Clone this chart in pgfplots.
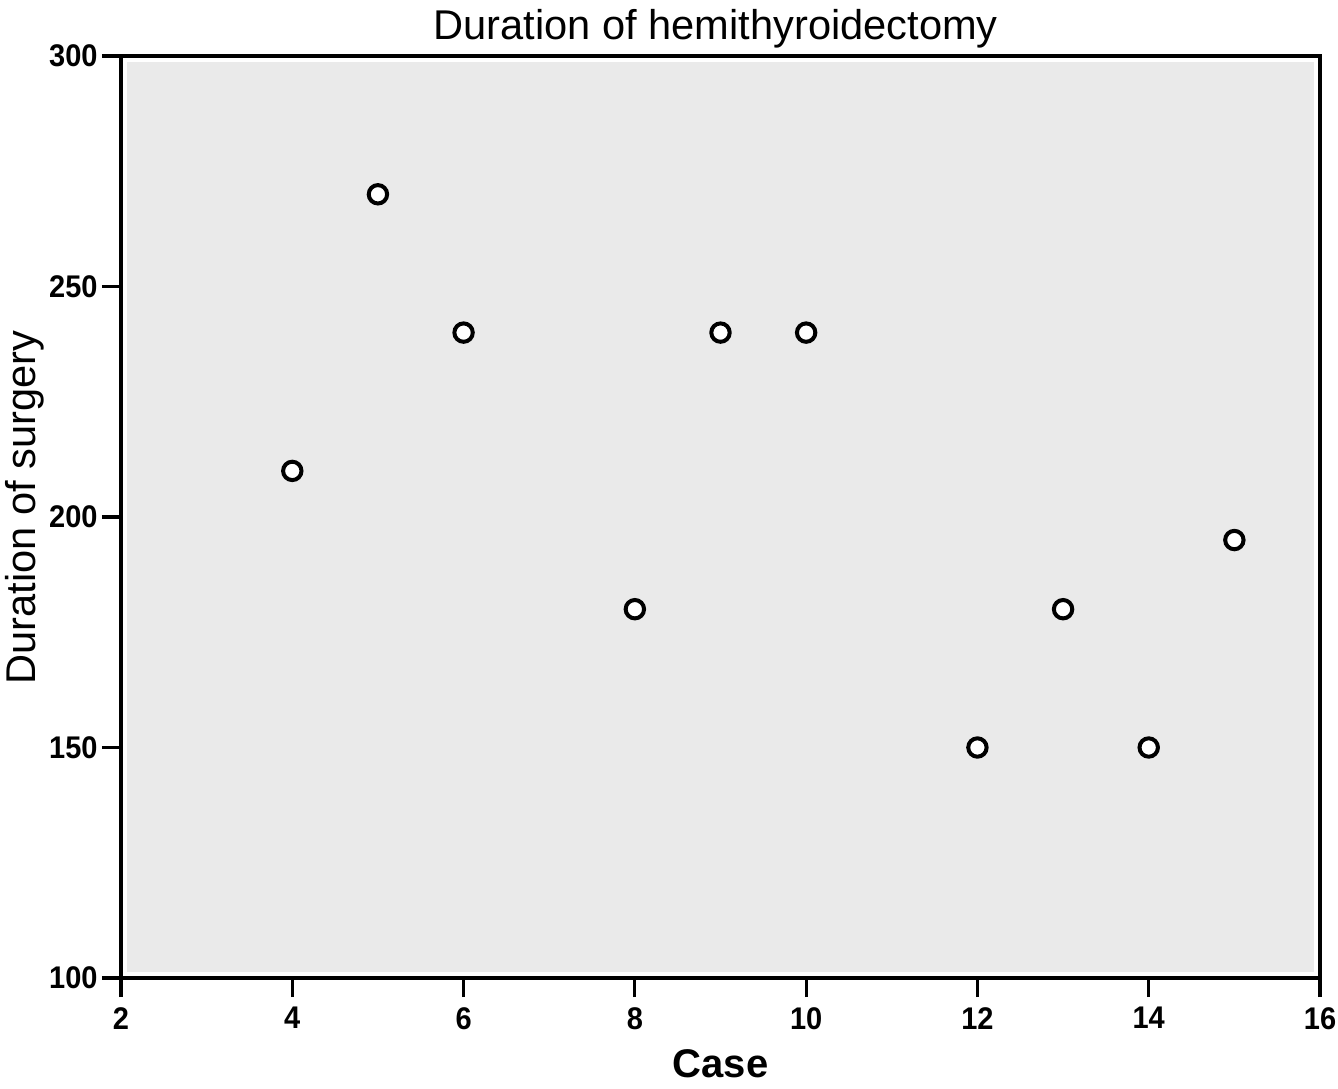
\documentclass[border=0pt]{standalone}
\usepackage{fontspec}
\setmainfont{Liberation Sans}
\usepackage{pgfplots}
\pgfplotsset{compat=1.18}
\definecolor{bgc}{RGB}{234,234,234}
\begin{document}
\begin{tikzpicture}
\useasboundingbox (-60.5pt,-55pt) rectangle (608.5pt,489pt);
\begin{axis}[
  scale only axis,
  width=599.5pt, height=461pt,
  xmin=2, xmax=16, ymin=100, ymax=300,
  xtick={2,4,...,16}, ytick={100,150,...,300},
  axis line style={line width=1.8pt},
  tick style={line width=1.6pt, black},
  tick align=outside,
  xtick pos=bottom, ytick pos=left,
  major tick length=9.5pt,
  /pgf/number format/assume math mode=true,
  ticklabel style={font=\fontsize{14.5}{17}\selectfont\bfseries, inner sep=0pt, yscale=1.08},
  yticklabel style={anchor=east, xshift=-2pt},
  xticklabel style={anchor=north, yshift=-4.5pt},
  title={Duration of hemithyroidectomy},
  title style={font=\fontsize{20.8}{24}\selectfont, at={(axis description cs:0.496,1)}, anchor=base, yshift=2pt, inner sep=0pt},
  xlabel={Case},
  xlabel style={font=\fontsize{20}{24}\selectfont\bfseries, at={(axis description cs:0.5,0)}, anchor=base, yshift=-49.5pt, inner sep=0pt},
  ylabel={Duration of surgery},
  ylabel style={font=\fontsize{20.8}{24}\selectfont, at={(axis description cs:0,0.51)}, anchor=center, yshift=48pt, inner sep=0pt},
  clip=false,
]
\fill[bgc] ([xshift=3pt,yshift=3pt]rel axis cs:0,0) rectangle ([xshift=-3pt,yshift=-3pt]rel axis cs:1,1);
\addplot[only marks, mark=*, mark size=4.6pt, mark options={draw=black, fill=white, line width=2pt}]
coordinates {(4,210) (5,270) (6,240) (8,180) (9,240) (10,240) (12,150) (13,180) (14,150) (15,195)};
\end{axis}
\end{tikzpicture}
\end{document}
